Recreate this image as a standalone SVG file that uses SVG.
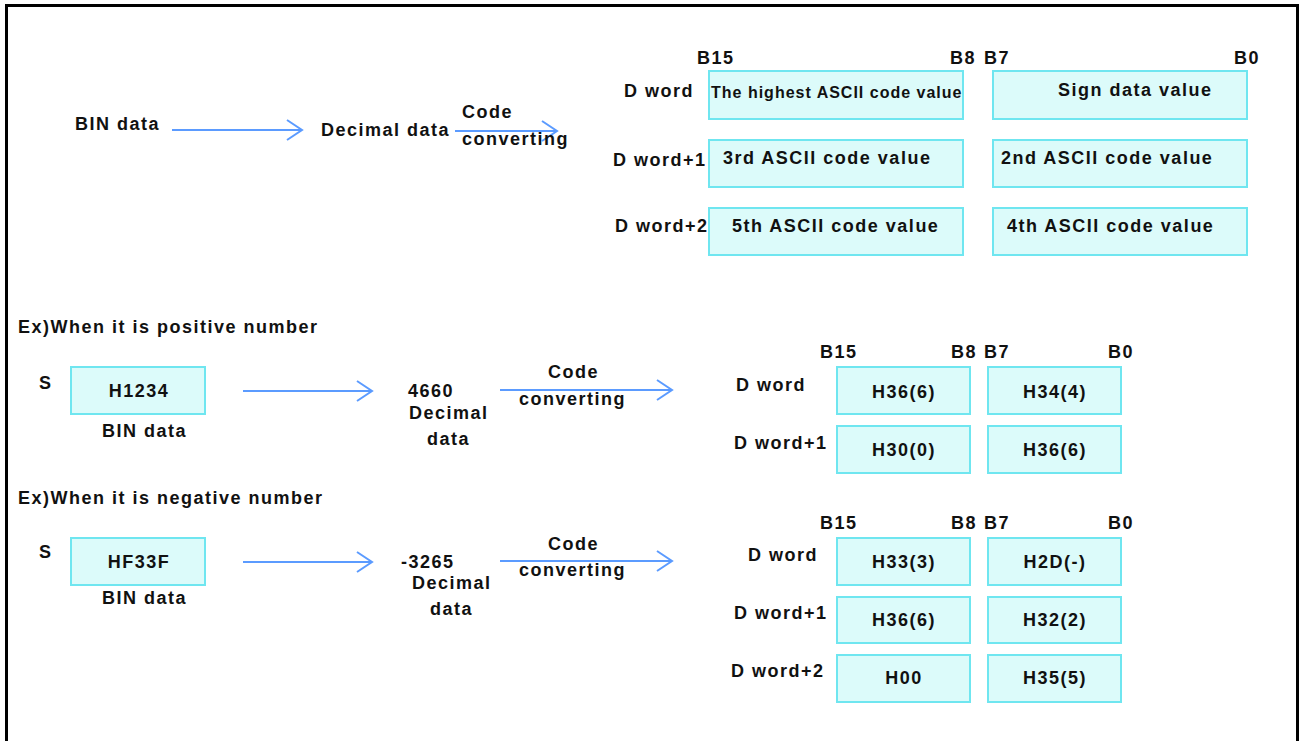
<svg xmlns="http://www.w3.org/2000/svg" width="1301" height="741" viewBox="0 0 1301 741">
<defs>
<style>
text{font-family:"Liberation Sans",Arial,sans-serif;font-weight:bold;font-size:18px;letter-spacing:1.5px;fill:#111}
.sm{font-size:16px;letter-spacing:1px}
.m{text-anchor:middle}
.box{fill:#dcfbfa;stroke:#6fe6f0;stroke-width:2}
.arr{stroke:#5b9bff;stroke-width:2;fill:none;marker-end:url(#chev)}
</style>
<marker id="chev" markerUnits="userSpaceOnUse" markerWidth="22" markerHeight="24" refX="16" refY="11" orient="auto">
<path d="M1,1 L16,11 L1,21" fill="none" stroke="#5b9bff" stroke-width="2"/>
</marker>
</defs>
<rect width="1301" height="741" fill="#fff"/>
<path d="M6.5,741 V5.5 H1297.5 V741" fill="none" stroke="#000" stroke-width="3"/>

<g id="connectors">
<path class="arr" d="M172,130 H302"/>
<path class="arr" d="M455,131 H557"/>
<path class="arr" d="M243,391 H372"/>
<path class="arr" d="M500,390 H672"/>
<path class="arr" d="M243,562 H372"/>
<path class="arr" d="M500,561 H672"/>
</g>

<g id="top-flow">
<text x="75" y="130">BIN data</text>
<text x="321" y="136">Decimal data</text>
<text x="462" y="118">Code</text>
<text x="462" y="145">converting</text>
</g>

<g id="top-table">
<text x="697" y="64">B15</text>
<text x="950" y="64">B8</text>
<text x="984" y="64">B7</text>
<text x="1234" y="64">B0</text>
<text x="624" y="97">D word</text>
<text x="613" y="166">D word+1</text>
<text x="615" y="232">D word+2</text>
<g id="t-r1c1"><rect class="box" x="709" y="71" width="254" height="48"/><text class="sm" x="711" y="98">The highest ASCII code value</text></g>
<g id="t-r1c2"><rect class="box" x="993" y="71" width="254" height="48"/><text x="1058" y="96">Sign data value</text></g>
<g id="t-r2c1"><rect class="box" x="709" y="140" width="254" height="47"/><text x="723" y="164">3rd ASCII code value</text></g>
<g id="t-r2c2"><rect class="box" x="993" y="140" width="254" height="47"/><text x="1001" y="164">2nd ASCII code value</text></g>
<g id="t-r3c1"><rect class="box" x="709" y="208" width="254" height="47"/><text x="732" y="232">5th ASCII code value</text></g>
<g id="t-r3c2"><rect class="box" x="993" y="208" width="254" height="47"/><text x="1007" y="232">4th ASCII code value</text></g>
</g>

<g id="pos-example">
<text x="18" y="333">Ex)When it is positive number</text>
<text x="39" y="389">S</text>
<g id="p-src"><rect class="box" x="71" y="367" width="134" height="47"/><text class="m" x="139" y="397">H1234</text></g>
<text x="102" y="437">BIN data</text>
<text x="408" y="397">4660</text>
<text x="409" y="419">Decimal</text>
<text x="427" y="445">data</text>
<text x="548" y="378">Code</text>
<text x="519" y="405">converting</text>
<text x="820" y="358">B15</text>
<text x="951" y="358">B8</text>
<text x="984" y="358">B7</text>
<text x="1108" y="358">B0</text>
<text x="736" y="391">D word</text>
<text x="734" y="449">D word+1</text>
<g id="p-r1c1"><rect class="box" x="837" y="367" width="133" height="47"/><text class="m" x="904" y="398">H36(6)</text></g>
<g id="p-r1c2"><rect class="box" x="988" y="367" width="133" height="47"/><text class="m" x="1055" y="398">H34(4)</text></g>
<g id="p-r2c1"><rect class="box" x="837" y="426" width="133" height="47"/><text class="m" x="904" y="456">H30(0)</text></g>
<g id="p-r2c2"><rect class="box" x="988" y="426" width="133" height="47"/><text class="m" x="1055" y="456">H36(6)</text></g>
</g>

<g id="neg-example">
<text x="18" y="504">Ex)When it is negative number</text>
<text x="39" y="558">S</text>
<g id="n-src"><rect class="box" x="71" y="538" width="134" height="47"/><text class="m" x="139" y="568">HF33F</text></g>
<text x="102" y="604">BIN data</text>
<text x="401" y="568">-3265</text>
<text x="412" y="589">Decimal</text>
<text x="430" y="615">data</text>
<text x="548" y="550">Code</text>
<text x="519" y="576">converting</text>
<text x="820" y="529">B15</text>
<text x="951" y="529">B8</text>
<text x="984" y="529">B7</text>
<text x="1108" y="529">B0</text>
<text x="748" y="561">D word</text>
<text x="734" y="619">D word+1</text>
<text x="731" y="677">D word+2</text>
<g id="n-r1c1"><rect class="box" x="837" y="538" width="133" height="47"/><text class="m" x="904" y="568">H33(3)</text></g>
<g id="n-r1c2"><rect class="box" x="988" y="538" width="133" height="47"/><text class="m" x="1055" y="568">H2D(-)</text></g>
<g id="n-r2c1"><rect class="box" x="837" y="597" width="133" height="46"/><text class="m" x="904" y="626">H36(6)</text></g>
<g id="n-r2c2"><rect class="box" x="988" y="597" width="133" height="46"/><text class="m" x="1055" y="626">H32(2)</text></g>
<g id="n-r3c1"><rect class="box" x="837" y="655" width="133" height="47"/><text class="m" x="904" y="684">H00</text></g>
<g id="n-r3c2"><rect class="box" x="988" y="655" width="133" height="47"/><text class="m" x="1055" y="684">H35(5)</text></g>
</g>
</svg>
